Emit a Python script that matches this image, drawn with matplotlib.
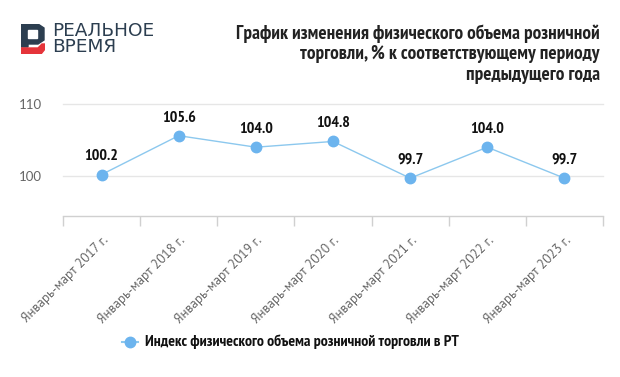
import matplotlib
matplotlib.use("Agg")
import matplotlib.pyplot as plt
from matplotlib.patches import Polygon, Rectangle

categories = ["Январь-март 2017 г.", "Январь-март 2018 г.", "Январь-март 2019 г.",
              "Январь-март 2020 г.", "Январь-март 2021 г.", "Январь-март 2022 г.",
              "Январь-март 2023 г."]
values = [100.2, 105.6, 104.0, 104.8, 99.7, 104.0, 99.7]
yticks = [100, 110]
series_name = "Индекс физического объема розничной торговли в РТ"
title = "График изменения физического объема розничной\nторговли, % к соответствующему периоду\nпредыдущего года"

cond = ["PT Sans Narrow", "DejaVu Sans"]
reg = ["PT Sans", "DejaVu Sans"]

W, H = 620, 377
fig = plt.figure(figsize=(W/100, H/100), dpi=100)

def fx(px): return px / W
def fy(py): return 1 - py / H

x0, x1 = 63, 603
ytop, ybot = 104, 215.5
ax = fig.add_axes([fx(x0), fy(ybot), fx(x1) - fx(x0), fy(ytop) - fy(ybot)])
n = len(categories)
xs = list(range(n))
ax.set_xlim(-0.5, n - 0.5)
ymin = 100 - (ybot - 176) / 7.2
ax.set_ylim(ymin, 110)
for yv in yticks:
    ax.axhline(yv, color="#e6e6e6", lw=1, zorder=0, clip_on=False)
ax.plot(xs, values, color="#8cc8ee", lw=1, zorder=2)
ax.plot(xs, values, "o", color="#6cb4ee", ms=7.5, mec="#6cb4ee", zorder=3)
for x, v in zip(xs, values):
    ax.annotate(f"{v:.1f}", (x, v), xytext=(0, 8), textcoords="offset points",
                ha="center", va="bottom", fontsize=11.5, fontweight="bold",
                family=cond, color="#111111")
for s in ["top", "right", "left"]:
    ax.spines[s].set_visible(False)
ax.spines["bottom"].set_color("#d0d0d0")
ax.spines["bottom"].set_linewidth(1)
ax.set_yticks(yticks)
ax.set_yticklabels([str(t) for t in yticks], color="#666666", fontsize=9.5, family=["Lato", "DejaVu Sans"])
ax.tick_params(axis="y", length=0, pad=15)
ax.set_xticks([i - 0.5 for i in range(n + 1)], minor=False)
ax.set_xticklabels([""] * (n + 1))
ax.tick_params(axis="x", length=7.5, width=1, color="#d0d0d0", direction="out")
for i, c in enumerate(categories):
    ax.annotate(c, (i, ymin), xytext=(0, -13), textcoords="offset points",
                rotation=45, ha="right", va="top", rotation_mode="anchor",
                fontsize=9.5, color="#666666", family=reg)

# legend
fig.lines.append(plt.Line2D([fx(122), fx(138)], [fy(342), fy(342)], color="#8cc8ee", lw=1.5,
                            transform=fig.transFigure))
fig.lines.append(plt.Line2D([fx(130)], [fy(342)], marker="o", ms=7.5, color="#6cb4ee",
                            transform=fig.transFigure))
fig.text(fx(145), fy(342), series_name, ha="left", va="center", fontsize=11.4,
         fontweight="bold", family=cond, color="#111111")

# title
fig.text(fx(600), fy(24.5), title, ha="right", va="top", fontsize=13.9, fontweight="bold",
         family=cond, color="#222222", linespacing=1.17)

# logo
lax = fig.add_axes([fx(21), fy(54), fx(45) - fx(21), fy(24) - fy(54)])
lax.set_xlim(21, 45); lax.set_ylim(54, 24); lax.axis("off")
dark = "#2c3e50"
red = "#e5343a"
lax.add_patch(Polygon([[21, 24], [38, 24], [44, 28], [44, 40], [38, 44], [28, 44], [28, 47], [21, 47]],
                      closed=True, color=dark))
lax.add_patch(Rectangle((28, 30), 9, 8, color="white"))
lax.add_patch(Polygon([[21, 48], [38, 48], [42, 44], [45, 44], [45, 49], [41, 54], [21, 54]],
                      closed=True, color=red))
fig.text(fx(52), fy(31), "РЕАЛЬНОЕ", ha="left", va="center", fontsize=13.3, color="#2c3e50",
         family=["DejaVu Sans"])
fig.text(fx(52), fy(47.5), "ВРЕМЯ", ha="left", va="center", fontsize=13.3, color="#2c3e50",
         family=["DejaVu Sans"])

fig.savefig("out.png", dpi=100)
